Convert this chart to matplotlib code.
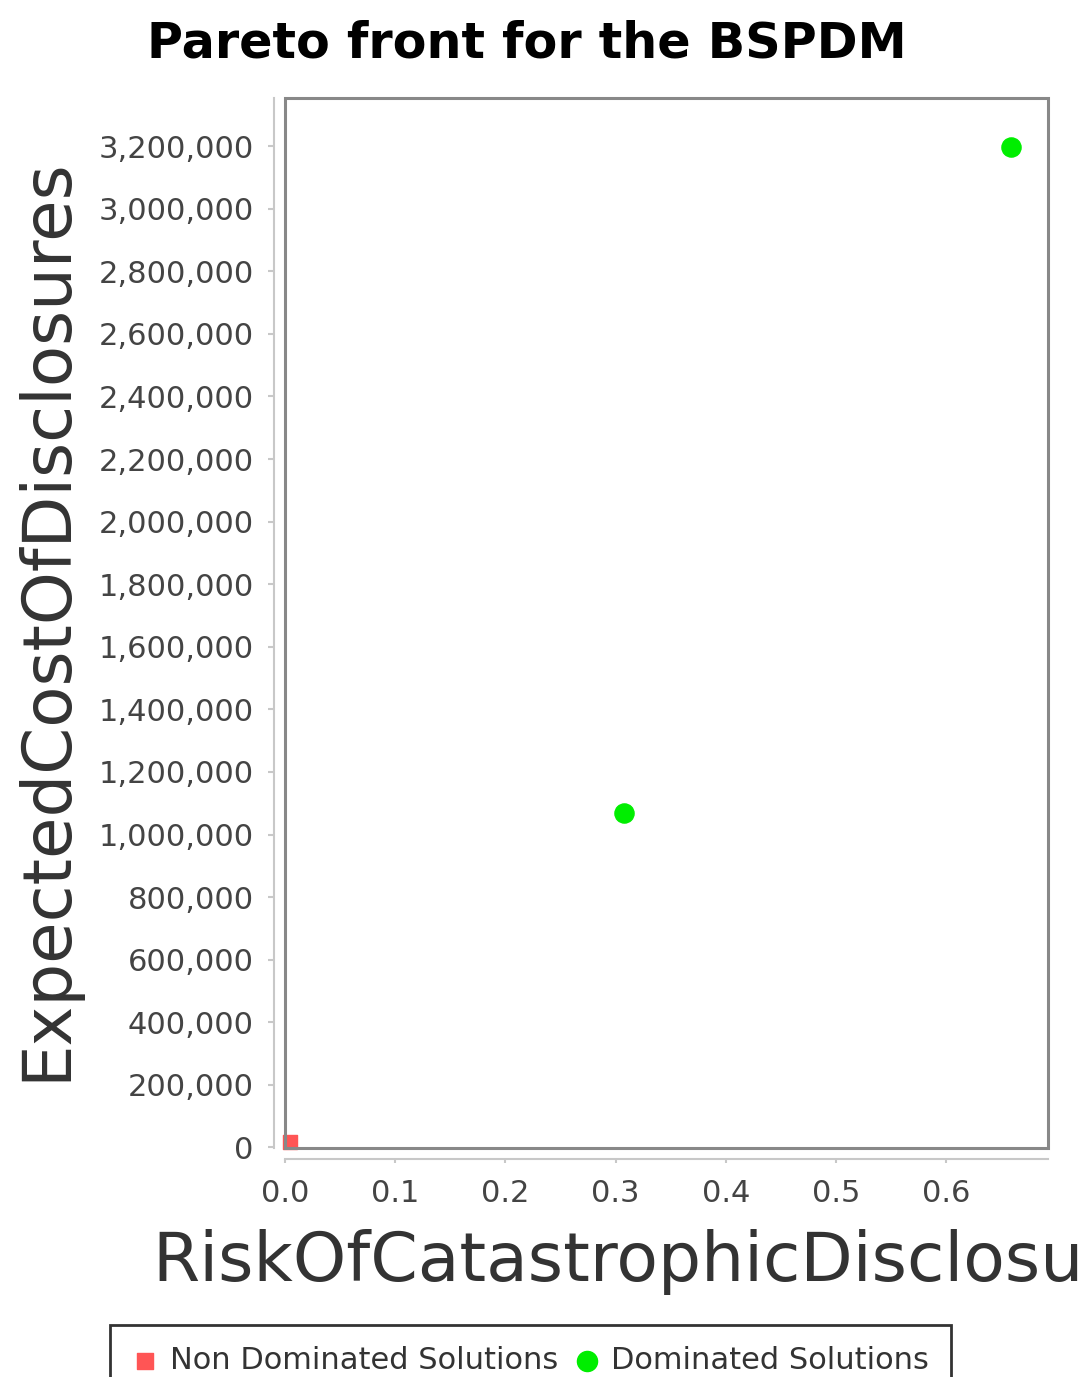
import matplotlib.pyplot as plt
from matplotlib.patches import Rectangle
from matplotlib.ticker import FuncFormatter, MultipleLocator

# Solutions found for the BSPDM
nondominated_risk = [0.0045]
nondominated_cost = [18000]
dominated_risk = [0.3075, 0.6585]
dominated_cost = [1070000, 3197000]

W, H = 1086, 1377
fig = plt.figure(figsize=(W / 100, H / 100), dpi=100)
fig.patch.set_facecolor("white")

# Plot area in pixel coordinates
left, right, top, bottom = 285, 1048, 98, 1148
ax = fig.add_axes([left / W, 1 - bottom / H, (right - left) / W, (bottom - top) / H])

ax.scatter(nondominated_risk, nondominated_cost, marker="s", s=110,
           color="#ff5555", label="Non Dominated Solutions", zorder=3, clip_on=False)
ax.scatter(dominated_risk, dominated_cost, marker="o", s=190,
           color="#00ee00", label="Dominated Solutions", zorder=3)
ax.axvline(0.0008, color="#3333aa", lw=1.2, ls=(0, (1.5, 1.5)), zorder=2)

ax.set_xlim(0, 0.6925)
ax.set_ylim(-2000, 3354000)

ax.xaxis.set_major_locator(MultipleLocator(0.1))
ax.yaxis.set_major_locator(MultipleLocator(200000))
ax.xaxis.set_major_formatter(FuncFormatter(lambda v, p: f"{v:.1f}"))
ax.yaxis.set_major_formatter(FuncFormatter(lambda v, p: f"{v:,.0f}"))

# outline of the plot area, with axis lines set apart from it
ax.add_patch(Rectangle((0, 0), 1, 1, transform=ax.transAxes, fill=False,
                       edgecolor="#888888", lw=2.2, zorder=4, clip_on=False))
for side in ["top", "right"]:
    ax.spines[side].set_visible(False)
for side in ["left", "bottom"]:
    ax.spines[side].set_position(("outward", 8))
    ax.spines[side].set_color("#c8c8c8")
    ax.spines[side].set_linewidth(1.5)

ax.tick_params(axis="both", colors="#c8c8c8", labelcolor="#444444",
               labelsize=22, width=1.5)
ax.tick_params(axis="y", length=4.5, pad=10)
ax.tick_params(axis="x", length=3, pad=11)

fig.text(0.485, 1 - 43 / H, "Pareto front for the BSPDM", ha="center", va="center",
         fontsize=35.5, fontweight="bold")
fig.text(46 / W, 1 - 619 / H, "ExpectedCostOfDisclosures", rotation=90,
         ha="center", va="center", fontsize=48.5, color="#333333")
fig.text(152 / W, 1 - 1262 / H, "RiskOfCatastrophicDisclosures", ha="left",
         va="center", fontsize=49, color="#333333")

leg = fig.legend(loc="upper left", bbox_to_anchor=(110 / W, 1 - 1325 / H),
                 ncol=2, fontsize=22, frameon=True, fancybox=False,
                 handletextpad=0.35, columnspacing=0.5, borderpad=0.7,
                 borderaxespad=0, handlelength=0.9, markerscale=1.05)
leg.get_frame().set_edgecolor("black")
leg.get_frame().set_linewidth(2)
for t in leg.get_texts():
    t.set_color("#333333")

fig.savefig("out.png", dpi=100)
